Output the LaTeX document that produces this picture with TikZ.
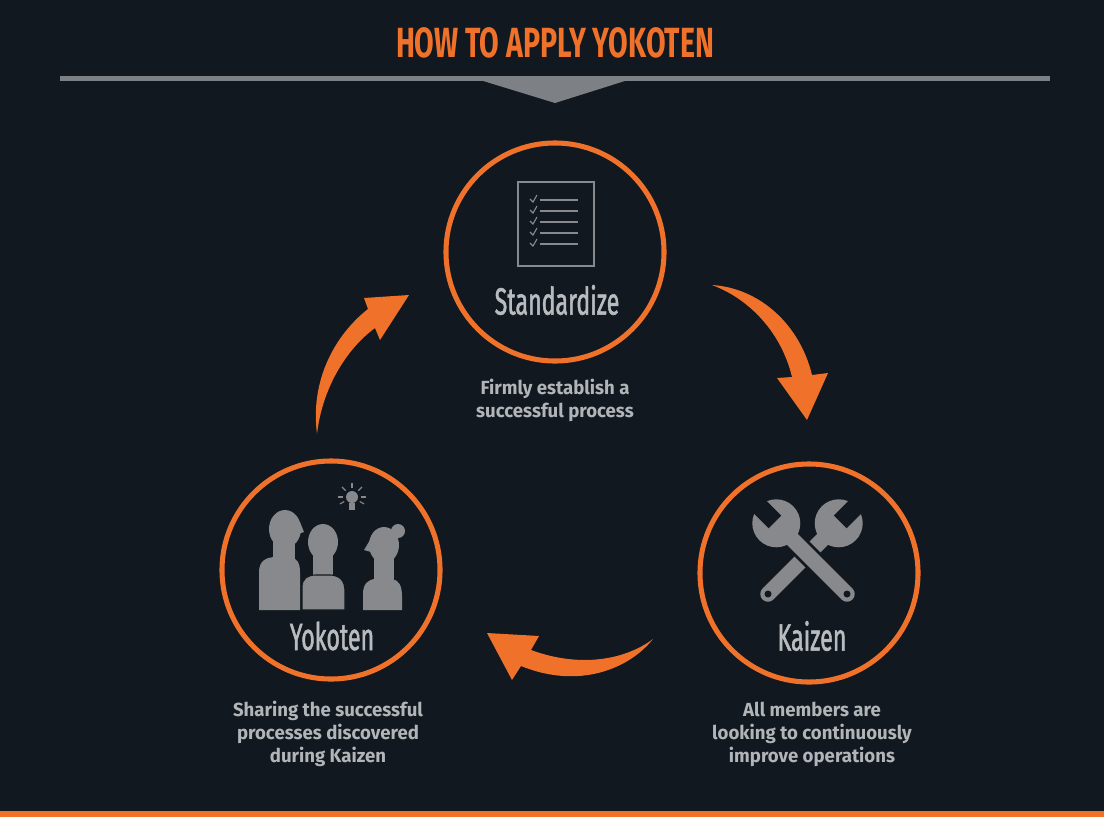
\documentclass[tikz,border=0pt]{standalone}
\usepackage{fontspec}
\usetikzlibrary{calc}
\setmainfont{Fira Sans}
\newfontfamily\headfont{Fira Sans}[FakeStretch=0.675]
\newfontfamily\namefont{Fira Sans}[FakeStretch=0.61, FakeBold=1.2]
\newfontfamily\notefont{Fira Sans}[FakeStretch=0.98]
\definecolor{bg}{HTML}{11181F}
\definecolor{yorange}{HTML}{F0722A}
\definecolor{bargray}{HTML}{7D8084}
\definecolor{icongray}{HTML}{88898C}
\definecolor{namegray}{HTML}{B9BCBF}
\definecolor{notegray}{HTML}{B2B5B8}
\tikzset{
  wrench/.pic={
    \draw[bg, line width=15pt] (0,0) -- (80,0);
    \draw[icongray, line width=11pt, line cap=round] (0,0) -- (80,0);
    \fill[icongray] (100,0) circle (24);
    \fill[bg] (102,-9) rectangle (130,9);
    \fill[bg] (0,0) circle (3.5);
  }
}
\begin{document}
\begin{tikzpicture}[x=0.025cm, y=-0.025cm,
  ring/.style={circle, draw=yorange, line width=3.6pt, minimum size=5.45cm, inner sep=0pt},
  ringlabel/.style={text=namegray, font=\namefont\fontsize{27}{30}\selectfont, inner sep=0pt},
  note/.style={text=notegray, align=center, font=\notefont\bfseries\fontsize{13.5}{16.4}\selectfont, inner sep=0pt},
  headline/.style={text=yorange, font=\headfont\bfseries\fontsize{30}{34}\selectfont, inner sep=0pt},
  cyclearrow/.style={fill=yorange}]
  \useasboundingbox[fill=bg] (0,0) rectangle (1104,817);
  % header
  \node[headline] (title) at (555,43) {HOW TO APPLY YOKOTEN};
  \fill[bargray] (60,76) rectangle (1050,81);
  \fill[bargray] (480,80) -- (628,80) -- (555,103) -- cycle;
  \fill[yorange] (0,811) rectangle (1104,817);
  % the three steps
  \node[ring] (std) at (555,252) {};
  \node[ring] (kai) at (809,573) {};
  \node[ring] (yok) at (331,570) {};
  \node[ringlabel] (stdname) at (557,300) {Standardize};
  \node[ringlabel] (kainame) at (812,636) {Kaizen};
  \node[ringlabel] (yokname) at (332,636) {Yokoten};
  \node[note] (stdnote) at (555,400) {Firmly establish a\\successful process};
  \node[note] (kainote) at (812,734) {All members are\\looking to continuously\\improve operations};
  \node[note] (yoknote) at (328,734) {Sharing the successful\\processes discovered\\during Kaizen};
  % checklist
  \draw[icongray, line width=1.4pt] (518,182) rectangle (594,266);
  \foreach \y in {200,211,222,233,244} {
    \draw[icongray, line width=1.4pt] (540,\y) -- (578,\y);
    \draw[icongray, line width=0.8pt] (530,\y-1) -- (533,\y+2) -- (537,\y-5);
  }
  % people
  \fill[icongray] (285,529) ellipse [x radius=16, y radius=19];
  \fill[icongray] (300,522) -- (304,532) -- (298,534) -- cycle;
  \fill[icongray] (273,540) rectangle (295,562);
  \fill[icongray] (259,610) -- (259,572) .. controls (259,561) and (266,557) .. (276,557)
    -- (290,557) .. controls (297,558) and (300,563) .. (300,572) -- (300,610) -- cycle;
  \fill[icongray] (323,542) ellipse [x radius=15, y radius=18];
  \fill[icongray] (313,552) rectangle (333,577);
  \filldraw[icongray, draw=bg, line width=0.8pt] (302,610) -- (302,587) .. controls (302,578) and (308,575) .. (316,575)
    -- (331,575) .. controls (340,576) and (345,580) .. (345,592) -- (345,610) -- cycle;
  \fill[icongray] (384,545) ellipse [x radius=15, y radius=18];
  \fill[icongray] (370,540) -- (364,550) -- (371,552) -- cycle;
  \fill[icongray] (398,531) circle (7);
  \fill[icongray] (374,555) rectangle (394,581);
  \fill[icongray] (363,610) -- (363,594) .. controls (363,584) and (368,579) .. (376,579)
    -- (392,579) .. controls (399,580) and (402,586) .. (402,596) -- (402,610) -- cycle;
  \fill[icongray] (352,497) circle (6);
  \fill[icongray] (349,503) rectangle (355,510);
  \foreach \a in {30,0,-45,-90,-135,180,150}
    \draw[icongray, line width=0.8pt] ($(352,497)+(\a:9)$) -- ($(352,497)+(\a:14)$);
  % wrenches
  \pic[rotate=45] at (768,594) {wrench};
  \pic[rotate=135] at (847,594) {wrench};
  % cycle arrows
  \fill[cyclearrow] (712,285) .. controls (760,288) and (800,325) .. (812,375) -- (828,373)
    -- (807,420) -- (777,378) -- (792,377) .. controls (782,335) and (752,300) .. (712,285) -- cycle;
  \fill[cyclearrow] (653,639) .. controls (630,668) and (580,690) .. (521,666) -- (512,680)
    -- (487,633) -- (539,636) -- (531,650) .. controls (580,668) and (625,660) .. (653,639) -- cycle;
  \fill[cyclearrow] (317,434) .. controls (310,380) and (335,335) .. (368,309) -- (364,298)
    -- (409,295) -- (380,340) -- (375,328) .. controls (345,350) and (322,390) .. (317,434) -- cycle;
\end{tikzpicture}
\end{document}
